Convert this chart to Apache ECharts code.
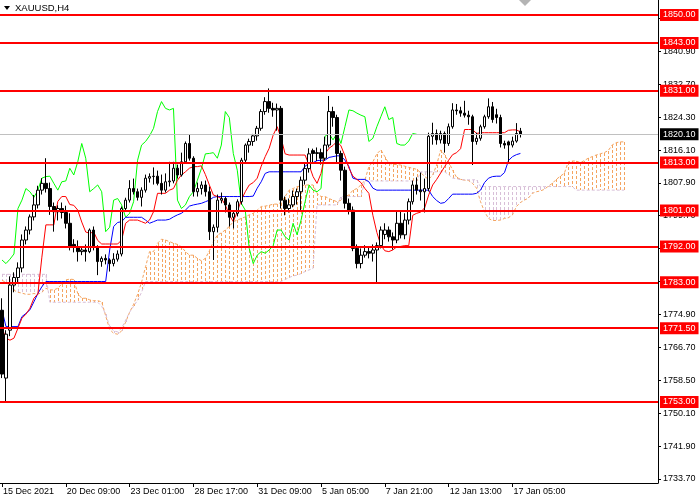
<!DOCTYPE html>
<html><head><meta charset="utf-8">
<script src="https://cdn.jsdelivr.net/npm/echarts@6/dist/echarts.min.js"></script>
<style>html,body{margin:0;padding:0;background:#fff}#c{width:700px;height:500px}</style>
</head><body><div id="c"></div>
<script>
// ---- data (XAUUSD H4) ----
const opens = [1776,1759,1771,1782.3,1784.2,1786.6,1793.6,1796.1,1799.4,1802.4,1806.1,1807.8,1806.5,1802.0,1800.7,1801.5,1800.5,1797.8,1792.5,1791.9,
1790.7,1791.1,1790.7,1796.1,1791.9,1788.2,1789.0,1788.6,1787.7,1788.8,1790.1,1801.5,1803.6,1806.5,1805.7,1804.3,1806.1,1809.1,1809.5,1809.6,
1807.8,1806.1,1808.2,1808.4,1811.6,1809.9,1813.2,1817.8,1814.1,1805.7,1806.5,1807.4,1805.7,1795.7,1796.8,1803.6,1804.0,1802.4,1799.3,1800.3,
1803.2,1813.6,1817.4,1818.3,1819.7,1821.6,1825.8,1828.3,1826.6,1826.2,1826.6,1803.6,1801.5,1802.4,1804.5,1805.7,1808.6,1811.5,1816.0,1815.3,
1815.5,1814.1,1817.4,1825.8,1824.3,1815.3,1811.1,1802.8,1801.1,1791.5,1787.7,1789.8,1790.7,1790.3,1791.1,1792.2,1795.0,1796.1,1794.4,1793.6,
1797.8,1794.9,1798.6,1803.2,1807.4,1806.1,1805.7,1806.5,1819.6,1820.3,1818.7,1820.3,1817.8,1822.0,1826.2,1826.0,1825.4,1824.9,1824.5,1818.3,
1819.1,1822.0,1824.5,1827.0,1825.0,1824.3,1817.8,1818.2,1817.4,1818.4,1820.9];
const highs = [1779,1771,1784.5,1785.5,1788,1795,1797,1800,1804.9,1807.2,1809.1,1814.1,1808,1803,1802.3,1803,1802.2,1800.3,1793.8,1793.5,
1791.9,1792.5,1796.5,1797,1792.3,1789.5,1790,1789,1790.3,1791,1802,1804.2,1808.6,1809,1806.5,1806.8,1810,1810.3,1811.8,1811,
1810,1810.3,1813.2,1813.2,1812.5,1815.5,1818.3,1820.1,1814.6,1808,1808.3,1808.5,1807,1797.5,1805,1805.5,1804.5,1803,1801,1803.8,
1814.2,1817.8,1819,1820.2,1822.2,1826.4,1829.4,1831.6,1828,1827.8,1827.2,1804.5,1804,1806,1806.5,1809.5,1812.8,1816.6,1816.5,1816.8,
1816.5,1819.5,1829.7,1827,1825,1816,1812,1804,1802,1792.5,1791.5,1792.3,1792,1792.5,1793,1797,1797.8,1797,1795.5,1800.8,
1801,1800.3,1804,1808.5,1809.3,1810.5,1809,1820.5,1823,1821.3,1821,1820.8,1822.8,1827.9,1827.7,1827,1828.5,1826,1825,1820.5,
1822.5,1825,1829.1,1828.2,1826.5,1825,1818.5,1818.5,1819.5,1822.9,1821.7];
const lows = [1759,1753,1769.5,1780.5,1783,1785.5,1792.5,1795,1798.5,1801.5,1805,1805.5,1799.9,1795.7,1798.5,1799,1796.5,1791,1790.5,1788.2,
1789.8,1788.2,1790.3,1791,1784.8,1786.9,1787.5,1785.7,1787,1788.2,1789.5,1800.8,1803,1805,1803.5,1802,1805.5,1808,1807.5,1807.3,
1805,1805.5,1807,1807.8,1809,1809.5,1812.8,1813.5,1804.5,1804.5,1805,1804.5,1793.6,1788.6,1795.5,1802.8,1800.5,1797,1796.5,1799.5,
1802.5,1812.8,1815.5,1817.2,1818.5,1821,1825,1825.5,1824.5,1821,1801.5,1799.8,1800.5,1801.8,1802.5,1801.1,1807.5,1810.5,1812.8,1813.4,
1812.5,1813.5,1816.8,1822,1813,1808.5,1801.5,1800,1790.8,1786.5,1786.5,1789.2,1789,1788.2,1782.7,1791.5,1793.8,1793.2,1791.2,1792.8,
1794,1793.8,1797.5,1802.5,1805,1803.5,1800.5,1805.8,1817.5,1817.5,1817.8,1815.5,1817.2,1821.5,1825,1824.5,1824.3,1822.5,1812.4,1817.5,
1818.5,1821.5,1824,1823,1822.8,1816.8,1816.5,1813.2,1816.8,1818,1819.3];
const closes = [1760,1770,1782.3,1784.2,1786.6,1793.6,1796.1,1799.4,1802.4,1806.1,1807.8,1806.5,1802.0,1800.7,1801.5,1800.5,1797.8,1791.9,1791.9,1790.7,
1791.1,1790.7,1796.1,1791.9,1788.2,1789.0,1788.6,1787.7,1788.8,1790.1,1801.5,1803.6,1806.5,1805.7,1804.3,1806.1,1809.1,1809.5,1809.6,1807.8,
1806.1,1808.2,1808.4,1811.6,1809.9,1813.2,1817.8,1814.1,1805.7,1806.5,1807.4,1805.7,1795.7,1796.8,1803.6,1804.0,1802.4,1799.3,1800.3,1803.2,
1813.6,1817.4,1818.3,1819.7,1821.6,1825.8,1828.3,1826.6,1826.2,1826.6,1803.6,1801.5,1802.4,1804.5,1805.7,1808.6,1811.5,1815.2,1815.3,1815.5,
1814.1,1817.4,1825.8,1824.3,1815.3,1811.1,1802.8,1801.1,1791.5,1787.7,1789.8,1790.7,1790.3,1791.1,1792.2,1796.1,1796.1,1794.4,1793.6,1797.8,
1794.9,1798.6,1803.2,1807.4,1806.1,1805.7,1806.5,1819.6,1820.3,1818.7,1820.3,1817.8,1822.0,1826.2,1826.0,1825.4,1824.9,1824.5,1818.3,1819.1,
1822.0,1824.5,1827.0,1823.8,1824.3,1817.8,1817.4,1817.4,1818.4,1820.3,1820.1];
const tenkan = [1771.5,1769,1768.5,1769,1771.5,1774,1775,1776.5,1779,1780.1,1789.3,1797.4,1797.4,1797.4,1803.3,1804.5,1804.5,1802.5,1802.3,1801.1,
1798.1,1795.6,1795.3,1795.6,1793.5,1792.6,1792.6,1792.6,1792.6,1792.6,1793.6,1797.8,1798.6,1798.6,1798.6,1798.2,1797.8,1798.6,1800.7,1805.3,
1805.3,1805.3,1806.1,1806.5,1808.6,1809.9,1810.7,1811.6,1812.0,1812.0,1812.2,1810.0,1807.4,1804.9,1804.5,1804.0,1802.4,1799.9,1798.2,1800.7,
1803.6,1805.7,1807.4,1808.0,1809.1,1812.1,1814.5,1816.6,1819.9,1822.0,1819.1,1815.2,1814.9,1814.9,1814.9,1814.9,1814.9,1812.4,1809.5,1807.8,
1810.3,1815.2,1816.6,1817.3,1818.3,1817.2,1814.7,1811.6,1809.6,1808.8,1808.0,1806.5,1805.3,1799.8,1795.5,1792.3,1790.9,1790.7,1791.1,1791.9,
1792.0,1792.2,1792.2,1799.8,1800.3,1800.6,1801.7,1804.9,1807.4,1808.8,1810.4,1812.0,1813.6,1815.0,1815.5,1816.5,1821.3,1821.3,1821.3,1820.3,
1820.5,1820.5,1820.5,1820.5,1820.5,1820.5,1820.5,1821.1,1821.2,1821.2,1820.7];
const kijun = [1776.1,1771.9,1771.9,1771.9,1771.9,1774.4,1775.2,1776.1,1778.1,1780.2,1781.9,1783.2,1783.2,1783.2,1783.2,1783.2,1783.2,1783.2,1783.2,1783.2,
1783.2,1783.2,1783.2,1783.2,1783.2,1783.2,1783.2,1791.1,1797.0,1798.0,1798.2,1799.3,1799.3,1799.3,1799.3,1799.3,1798.6,1797.8,1798.2,1798.6,
1798.6,1798.6,1798.8,1799.4,1799.9,1800.3,1801.1,1802.1,1802.4,1802.6,1802.8,1803.2,1803.6,1804.3,1804.5,1804.5,1804.5,1804.5,1804.5,1804.5,
1804.5,1804.5,1804.5,1804.6,1806.6,1808.2,1810.3,1810.7,1810.7,1810.7,1810.7,1810.7,1810.7,1810.7,1810.7,1810.7,1812.1,1812.8,1813.0,1813.5,
1813.6,1813.6,1814.3,1814.5,1814.7,1814.7,1813.6,1812.0,1809.1,1808.8,1808.8,1808.8,1808.2,1806.6,1806.1,1806.1,1806.1,1806.1,1806.1,1806.1,
1806.1,1806.1,1806.1,1806.1,1806.1,1806.1,1806.1,1806.1,1804.5,1803.5,1802.8,1803.0,1804.0,1805.1,1805.1,1805.1,1805.1,1805.1,1805.1,1805.3,
1806.1,1808.0,1809.1,1809.5,1809.6,1809.6,1810.5,1813.5,1814.5,1815.0,1815.3];
const spanA = [1783.5,1783.0,1782.0,1781.0,1780.5,1780.3,1780.0,1780.0,1780.2,1780.0,1780.5,1781.5,1781.1,1781.1,1781.5,1782.6,1783.6,1783.8,1783.7,1780.2,
1779.0,1779.0,1778.6,1778.4,1778.4,1778.1,1774.6,1771.2,1770.2,1770.0,1770.8,1773.0,1775.5,1777.5,1780.0,1783.0,1786.9,1790.7,1790.7,1792.8,
1793.8,1793.6,1793.2,1792.8,1792.5,1791.9,1790.7,1789.8,1789.8,1789.0,1788.4,1789.0,1790.9,1793.2,1794.8,1795.4,1796.1,1797.0,1798.2,1798.6,
1799.0,1799.4,1799.9,1800.3,1801.1,1802.0,1802.1,1802.3,1802.6,1802.6,1803.0,1804.5,1806.1,1806.5,1807.0,1807.1,1807.4,1807.4,1807.4,1805.3,
1804.5,1804.5,1804.0,1803.6,1803.2,1803.6,1804.5,1804.9,1806.1,1806.5,1807.4,1808.6,1812.0,1813.2,1815.2,1816.2,1814.5,1812.8,1812.6,1812.5,
1812.4,1812.1,1811.8,1811.6,1811.3,1810.5,1809.5,1808.8,1809.9,1812.4,1816.2,1814.9,1813.2,1811.1,1809.3,1808.8,1808.6,1808.5,1807.8,1806.6,
1803.2,1800.7,1799.0,1798.5,1798.5,1798.6,1799.0,1799.2,1799.9,1802.0,1803.0,1803.6,1804.1,1805.3,1805.7,1805.9,1806.3,1807.1,1807.8,1808.8,
1809.6,1810.3,1813.2,1813.4,1813.4,1813.0,1813.5,1814.1,1814.5,1814.9,1815.2,1815.5,1816.0,1817.4,1818.0,1818.2,1818.2];
const spanB = [1785.0,1785.0,1785.0,1785.0,1785.0,1785.0,1785.0,1785.0,1785.0,1785.0,1785.0,1785.0,1778.0,1778.0,1778.0,1778.0,1778.0,1778.0,1778.0,1778.0,
1778.0,1778.0,1778.0,1778.0,1778.0,1777.0,1775.0,1772.0,1770.8,1770.6,1771.5,1773.5,1775.5,1777.0,1778.5,1780.5,1783.2,1783.2,1783.2,1783.2,
1783.2,1783.2,1783.2,1783.2,1783.2,1783.2,1783.2,1783.2,1783.2,1783.2,1783.2,1783.2,1783.2,1783.2,1783.2,1783.2,1783.2,1783.2,1783.2,1783.2,
1783.2,1783.2,1783.2,1783.2,1783.2,1783.2,1783.2,1783.2,1783.2,1783.2,1783.2,1783.7,1784.2,1784.6,1784.8,1785.2,1785.7,1786.1,1786.5,1802.4,
1802.4,1802.4,1802.4,1802.4,1802.4,1804.5,1804.5,1804.5,1804.5,1804.5,1804.5,1808.4,1808.4,1808.4,1808.4,1808.4,1808.4,1808.4,1808.4,1808.4,
1808.4,1808.4,1808.4,1808.4,1808.4,1810.7,1810.7,1810.7,1810.7,1810.7,1810.7,1810.7,1810.0,1809.1,1809.0,1808.7,1808.7,1808.7,1808.7,1808.7,
1807.0,1807.0,1807.0,1807.0,1807.0,1807.0,1807.0,1807.0,1807.0,1807.0,1807.0,1807.0,1807.0,1807.0,1807.0,1807.0,1807.0,1807.0,1807.0,1807.0,
1807.0,1807.0,1807.0,1807.0,1806.1,1806.1,1806.1,1806.1,1806.1,1806.1,1806.1,1806.1,1806.1,1806.1,1806.1,1806.1,1806.1];
const xTickLabels = ["15 Dec 2021","20 Dec 09:00","23 Dec 01:00","28 Dec 17:00","31 Dec 09:00","5 Jan 05:00","7 Jan 21:00","12 Jan 13:00","17 Jan 05:00"];
const yTickValues = [1733.7,1741.9,1750.1,1758.5,1766.7,1774.9,1783.3,1791.5,1799.7,1807.9,1816.1,1824.3,1832.7,1840.9,1849.1];
const levels = [1850,1843,1831,1813,1801,1792,1783,1771.5,1753];
const lastPrice = 1820.10;
const CHIKOU_SHIFT = 26;
const SLOTS = 165;

// ---- build ----
const cats = Array.from({length: SLOTS}, (_, i) => String(i));
const candleData = opens.map((o, i) => [o, closes[i], lows[i], highs[i]]);
const chikou = closes.slice(CHIKOU_SHIFT);
const cloud = spanA.map((a, i) => [i, a, spanB[i]]);
const FONT = 'Liberation Sans, Arial, sans-serif';
const isTick = (i) => i % 16 === 0 && i / 16 < xTickLabels.length;
const ORANGE = '#F4A460', THISTLE = '#D8BFD8';

const chart = echarts.init(document.getElementById('c'), null, {renderer: 'canvas'});
const lbl = (v, bg) => ({show: true, position: 'end', distance: 2, formatter: v.toFixed(2),
  backgroundColor: bg, color: '#ffffff', padding: [2, 3, 1, 3], fontSize: 9, fontFamily: FONT});
const lvlItems = levels.map(v => ({
  yAxis: v, lineStyle: {color: '#ff0000', width: 2, type: 'solid'}, label: lbl(v, '#ff0000')
}));
lvlItems.unshift({
  yAxis: lastPrice, lineStyle: {color: '#c0c0c0', width: 1, type: 'solid'}, label: lbl(lastPrice, '#000000')
});

chart.setOption({
  animation: false,
  backgroundColor: '#ffffff',
  grid: {left: -2, right: 42, top: 0, bottom: 17, containLabel: false},
  xAxis: {
    type: 'category', data: cats, boundaryGap: true,
    axisLine: {show: true, lineStyle: {color: '#000', width: 1}},
    axisTick: {show: true, alignWithLabel: true, interval: (i) => isTick(i), length: 4, lineStyle: {color: '#000'}},
    axisLabel: {interval: (i) => isTick(i), formatter: (v, i) => isTick(i) ? xTickLabels[i / 16] : '',
                align: 'left', margin: 4, padding: [0, 0, 0, 1], color: '#000', fontSize: 9, fontFamily: FONT},
    splitLine: {show: false}
  },
  yAxis: {
    type: 'value', position: 'right', min: 1732.7, max: 1853.76, scale: true,
    axisLine: {show: true, lineStyle: {color: '#000', width: 1}},
    axisTick: {show: true, customValues: yTickValues, length: 3, lineStyle: {color: '#000'}},
    axisLabel: {customValues: yTickValues, formatter: (v) => v.toFixed(2), margin: 5,
                color: '#000', fontSize: 9, fontFamily: FONT},
    splitLine: {show: false}
  },
  graphic: [
    {type: 'polygon', shape: {points: [[4, 6], [10, 6], [7, 10]]}, style: {fill: '#000'}, z: 100},
    {type: 'text', x: 15, y: 8, style: {text: 'XAUUSD,H4', fill: '#000', font: '9.5px ' + FONT, textVerticalAlign: 'middle'}, z: 100},
    {type: 'polygon', shape: {points: [[519, 0], [531, 0], [525, 6]]}, style: {fill: '#b4b4b4'}, z: 100}
  ],
  series: [
    {
      type: 'custom', name: 'cloud', z: 1, silent: true,
      renderItem: (params, api) => {
        const a = api.value(1), b = api.value(2);
        const p1 = api.coord([api.value(0), a]);
        const p2 = api.coord([api.value(0), b]);
        const x = Math.round(p1[0]);
        const top = Math.round(Math.min(p1[1], p2[1]));
        const bot = Math.round(Math.max(p1[1], p2[1]));
        const fill = a >= b ? ORANGE : THISTLE;
        const children = [];
        for (let y = top; y < bot; y += 5) {
          children.push({type: 'rect', shape: {x: x, y: y, width: 1, height: Math.min(3, bot - y)},
                         style: {fill: fill}});
        }
        return {type: 'group', children: children};
      },
      data: cloud
    },
    {type: 'line', name: 'SpanA', data: spanA, showSymbol: false, z: 2, silent: true,
     lineStyle: {color: ORANGE, width: 1, type: [3, 2]}},
    {type: 'line', name: 'SpanB', data: spanB, showSymbol: false, z: 2, silent: true,
     lineStyle: {color: THISTLE, width: 1, type: [3, 2]}},
    {type: 'line', name: 'Chikou', data: chikou, showSymbol: false, z: 3, silent: true,
     lineStyle: {color: '#00ff00', width: 1}},
    {type: 'line', name: 'Kijun', data: kijun, showSymbol: false, z: 3, silent: true,
     lineStyle: {color: '#0000ff', width: 1}},
    {type: 'line', name: 'Tenkan', data: tenkan, showSymbol: false, z: 3, silent: true,
     lineStyle: {color: '#ff0000', width: 1}},
    {type: 'candlestick', name: 'XAUUSD', data: candleData, barWidth: 3, z: 4, silent: true,
     itemStyle: {color: '#ffffff', color0: '#000000', borderColor: '#000000', borderColor0: '#000000', borderWidth: 1}},
    {type: 'line', name: 'levels', data: [], z: 6, silent: true,
     markLine: {symbol: 'none', silent: true, animation: false, data: lvlItems}}
  ]
});
</script></body></html>
